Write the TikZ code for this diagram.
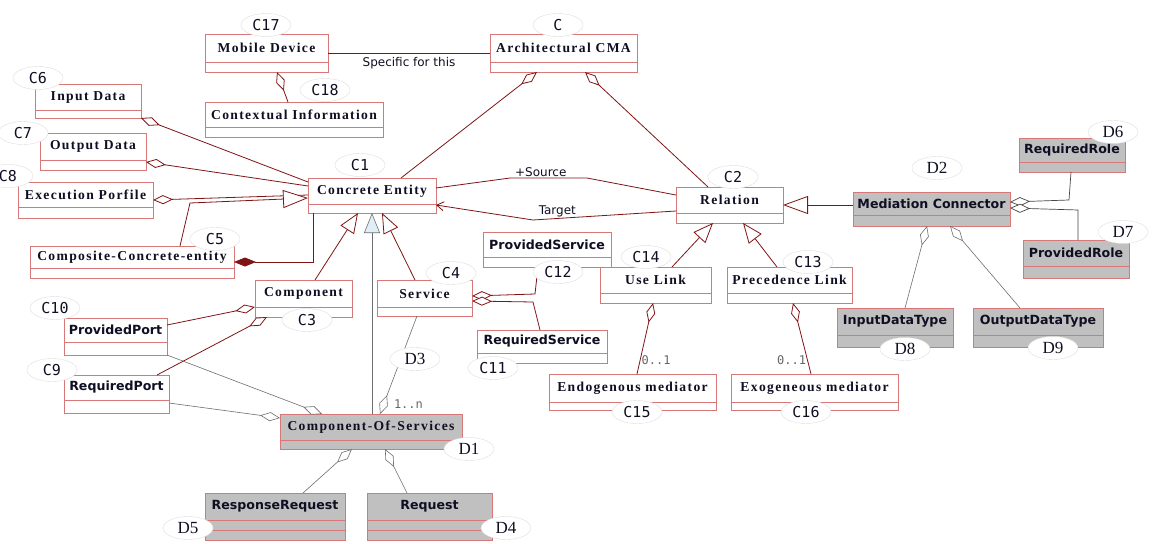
\documentclass[tikz,border=0pt]{standalone}
\usepackage{fontspec}
\setmainfont{Liberation Serif}
\newfontfamily\ttlfont{Liberation Serif}[LetterSpace=10]
\newfontfamily\sboldfont{DejaVu Sans}
\newfontfamily\cmonofont{DejaVu Sans Mono}
\newfontfamily\dserfont{Liberation Serif}
\newfontfamily\lblfont{DejaVu Sans}
\usetikzlibrary{arrows.meta,calc,shapes.geometric}
\definecolor{boxred}{RGB}{214,120,120}
\definecolor{linered}{RGB}{128,20,20}
\definecolor{boxgray}{RGB}{192,192,192}
\definecolor{txt}{RGB}{15,15,35}
\definecolor{thingray}{RGB}{110,110,110}
\definecolor{darkgrayline}{RGB}{70,70,70}
\definecolor{ellborder}{RGB}{222,222,222}
\definecolor{genblue}{RGB}{225,238,245}
\tikzset{
 boxw/.style={draw=boxred, fill=white, line width=0.7pt, inner sep=0pt, outer sep=0pt},
 boxg/.style={draw=boxred, fill=boxgray, line width=0.7pt, inner sep=0pt, outer sep=0pt},
 ttlf/.style={font={\ttlfont\bfseries\fontsize{13.6}{15}\selectfont}, text=txt, inner sep=0pt},
 sansf/.style={font={\sboldfont\bfseries\fontsize{12.6}{14}\selectfont}, text=txt, inner sep=0pt},
 tag/.style={ellipse, draw=ellborder, fill=white, minimum width=50pt, minimum height=23pt, inner sep=1pt, font={\cmonofont\fontsize{15}{17}\selectfont}, text=txt},
 dtag/.style={tag, font={\dserfont\fontsize{17}{19}\selectfont}},
 rline/.style={draw=linered, line width=0.8pt},
 gline/.style={draw=thingray, line width=0.6pt},
 dline/.style={draw=darkgrayline, line width=0.7pt},
 agg/.style={{Diamond[fill=white,length=20pt,width=9pt]}-},
 compo/.style={{Diamond[fill=linered,length=22pt,width=9pt]}-},
 gen/.style={-{Triangle[fill=white,length=20pt,width=16pt]}},
 genL/.style={-{Triangle[fill=white,length=25pt,width=18pt]}},
 genb/.style={-{Triangle[fill=genblue,length=20pt,width=16pt]}},
 nav/.style={-{Straight Barb[length=7pt,width=9pt]}},
 lab/.style={font={\lblfont\fontsize{12}{14}\selectfont}, text=txt, inner sep=1pt},
 mlab/.style={font={\cmonofont\fontsize{12}{14}\selectfont}, text=black!60, inner sep=1pt},
}
\newcommand\umlbox[9]{%
 \node[#1, anchor=north west, minimum width={#5-#3}, minimum height={#6-#4}] (#2) at (#3,#4) {};
 \draw[draw=boxred, line width=0.7pt] (#3,#7) -- (#5,#7);
 \node[#8] (#2-t) at ({(#3+#5)/2},{(#4+#7)/2}) {#9};
}
\begin{document}
\begin{tikzpicture}[x=1pt,y=-1pt]
\fill[white] (0,0) rectangle (1155,543);
\useasboundingbox (0,0) rectangle (1155,543);
% boxes
\umlbox{boxw}{md}{205}{34}{328}{72}{62}{ttlf}{Mobile Device}
\umlbox{boxw}{ci}{205}{102}{383}{137}{127}{ttlf}{Contextual Information}
\umlbox{boxw}{cma}{490}{34}{637}{72}{62}{ttlf}{Architectural CMA}
\umlbox{boxw}{ind}{35}{84}{141}{118}{110}{ttlf}{Input Data}
\umlbox{boxw}{outd}{40}{133}{146}{170}{160}{ttlf}{Output Data}
\umlbox{boxw}{exe}{18}{182}{153}{218}{207}{ttlf}{Execution Porfile}
\umlbox{boxw}{ce}{308}{178}{436}{213}{204}{ttlf}{Concrete Entity}
\umlbox{boxw}{cce}{30}{246}{234}{278}{268}{ttlf}{Composite-Concrete-entity}
\umlbox{boxw}{comp}{255}{280}{352}{317}{307}{ttlf}{Component}
\umlbox{boxw}{serv}{377}{280}{472}{316}{307}{ttlf}{Service}
\umlbox{boxw}{ps}{483}{232}{611}{267}{257}{sansf}{ProvidedService}
\umlbox{boxw}{rs}{477}{330}{607}{363}{353}{sansf}{RequiredService}
\umlbox{boxw}{rel}{676}{187}{783}{223}{213}{ttlf}{Relation}
\umlbox{boxw}{ul}{600}{267}{711}{303}{293}{ttlf}{Use Link}
\umlbox{boxw}{pl}{727}{267}{852}{303}{293}{ttlf}{Precedence Link}
\umlbox{boxw}{endo}{549}{374}{716}{410}{402}{ttlf}{Endogenous mediator}
\umlbox{boxw}{exo}{731}{374}{898}{410}{402}{ttlf}{Exogeneous mediator}
\umlbox{boxg}{mc}{853}{192}{1010}{226}{215}{sansf}{Mediation Connector}
\umlbox{boxg}{rr}{1019}{138}{1125}{172}{162}{sansf}{RequiredRole}
\umlbox{boxg}{pr}{1023}{240}{1129}{278}{266}{sansf}{ProvidedRole}
\umlbox{boxg}{idt}{837}{308}{953}{347}{335}{sansf}{InputDataType}
\umlbox{boxg}{odt}{973}{308}{1103}{347}{335}{sansf}{OutputDataType}
\umlbox{boxw}{pp}{64}{318}{167}{355}{342}{sansf}{ProvidedPort}
\umlbox{boxw}{rp}{64}{375}{169}{413}{400}{sansf}{RequiredPort}
\umlbox{boxg}{cos}{280}{414}{462}{449}{440}{ttlf}{Component-Of-Services}
\umlbox{boxg}{rreq}{205}{493}{345}{540}{520}{sansf}{ResponseRequest}
\umlbox{boxg}{req}{367}{493}{492}{540}{520}{sansf}{Request}
\draw[draw=boxred, line width=0.7pt] ($(rreq.south west)+(0,-10)$) -- ($(rreq.south east)+(0,-10)$);
\draw[draw=boxred, line width=0.7pt] ($(req.south west)+(0,-10)$) -- ($(req.south east)+(0,-10)$);
% connectors
\draw[rline, agg] ($(md.south west)+(72,0)$) -- ($(ci.north west)+(83,0)$);
\draw[rline] (md.east) -- node[lab, below=3pt] (lspec) {Specific for this} (cma.west);
\draw[rline, agg] (ind.south east) -- ($(ce.north west)+(0,4)$);
\draw[rline, agg] ($(outd.south east)+(0,-8)$) -- ($(ce.north west)+(0,8)$);
\draw[rline, agg] (exe.east) -- ($(ce.north west)+(0,17)$);
\draw[rline, genL] ($(cce.north west)+(150,0)$) -- (190,203) -- ($(ce.north west)+(0,20)$);
\draw[rline, compo] (cce.east) -| ($(ce.south west)+(5,0)$);
\draw[rline, gen] ($(comp.north west)+(60,0)$) -- ($(ce.south west)+(50,0)$);
\draw[rline, gen] ($(serv.north west)+(38,0)$) -- ($(ce.south west)+(74,0)$);
\draw[gline, genb] ($(cos.north west)+(92,0)$) -- ($(ce.south west)+(64,0)$);
\draw[rline] ($(ce.north east)+(0,10)$) -- (510,178) -- node[lab, above, pos=0.4] (lsrc) {+Source} (587,178) -- ($(rel.north west)+(0,8)$);
\draw[rline, nav] ($(rel.north west)+(0,24)$) -- node[lab, above, pos=0.83] (ltgt) {Target} (533,220) -- ($(ce.north east)+(0,27)$);
\draw[rline, agg] ($(cma.south west)+(47,0)$) -- ($(ce.north east)+(-35,0)$);
\draw[rline, agg] ($(cma.south west)+(95,0)$) -- ($(rel.north west)+(32,0)$);
\draw[rline, genL] ($(mc.north west)+(0,13)$) -- ($(rel.north east)+(0,18)$);
\draw[rline, gen] ($(ul.north west)+(72,0)$) -- ($(rel.south west)+(37,0)$);
\draw[rline, gen] ($(pl.north west)+(50,0)$) -- ($(rel.south west)+(67,0)$);
\draw[rline, agg] ($(ul.south west)+(53,0)$) -- node[mlab, right, pos=0.8] (l01a) {0..1} ($(endo.north west)+(88,0)$);
\draw[rline, agg] ($(pl.south west)+(66,0)$) -- node[mlab, left, pos=0.8] (l01b) {0..1} ($(exo.north west)+(80,0)$);
\draw[rline, agg] ($(serv.north east)+(0,16)$) -- (535,294) -- ($(ps.south west)+(55,0)$);
\draw[rline, agg] ($(serv.north east)+(0,21)$) -- (533,302) -- ($(rs.north west)+(63,0)$);
\draw[dline, agg] ($(mc.north east)+(0,10)$) -- (1069,200) -- ($(rr.south west)+(52,0)$);
\draw[dline, agg] ($(mc.north east)+(0,16)$) -- (1078,210) -- ($(pr.north west)+(55,0)$);
\draw[gline, agg] ($(mc.south west)+(74,0)$) -- ($(idt.north west)+(68,0)$);
\draw[gline, agg] ($(mc.south west)+(97,0)$) -- ($(odt.north west)+(47,0)$);
\draw[rline, agg] ($(comp.north west)+(0,27)$) -- ($(pp.north east)+(0,7)$);
\draw[rline, agg] ($(comp.south west)+(12,0)$) -- ($(rp.north east)+(-12,0)$);
\draw[gline, agg] ($(cos.north west)+(42,0)$) -- (pp.south east);
\draw[gline, agg] ($(cos.north west)+(0,4)$) -- ($(rp.north east)+(0,28)$);
\draw[gline, agg] ($(cos.north west)+(100,0)$) -- node[mlab, right=9pt, pos=0.1] (l1n) {1..n} ($(serv.south west)+(40,0)$);
\draw[gline, agg] ($(cos.south west)+(72,0)$) -- ($(rreq.north west)+(98,0)$);
\draw[gline, agg] ($(cos.south west)+(105,0)$) -- ($(req.north west)+(40,0)$);
% tags
\node[tag] (tC17) at (266,25) {C17};
\node[tag] (tC18) at (325,90) {C18};
\node[tag] (tC) at (558,25) {C};
\node[tag] (tC6) at (38,78) {C6};
\node[tag] (tC7) at (23,133) {C7};
\node[tag] (tC8) at (8,176) {C8};
\node[tag] (tC1) at (360,165) {C1};
\node[tag] (tC5) at (215,239) {C5};
\node[tag] (tC3) at (307,320) {C3};
\node[tag] (tC4) at (451,273) {C4};
\node[tag] (tC12) at (558,272) {C12};
\node[tag] (tC11) at (493,368) {C11};
\node[tag] (tC2) at (733,177) {C2};
\node[tag] (tC14) at (646,257) {C14};
\node[tag] (tC13) at (808,262) {C13};
\node[tag] (tC15) at (637,412) {C15};
\node[tag] (tC16) at (806,412) {C16};
\node[tag] (tC10) at (55,308) {C10};
\node[tag] (tC9) at (52,370) {C9};
\node[dtag] (tD2) at (937,168) {D2};
\node[dtag] (tD6) at (1113,132) {D6};
\node[dtag] (tD7) at (1123,232) {D7};
\node[dtag] (tD8) at (905,349) {D8};
\node[dtag] (tD9) at (1053,348) {D9};
\node[dtag] (tD3) at (415,359) {D3};
\node[dtag] (tD1) at (469,449) {D1};
\node[dtag] (tD5) at (188,528) {D5};
\node[dtag] (tD4) at (506,528) {D4};
\end{tikzpicture}
\end{document}
